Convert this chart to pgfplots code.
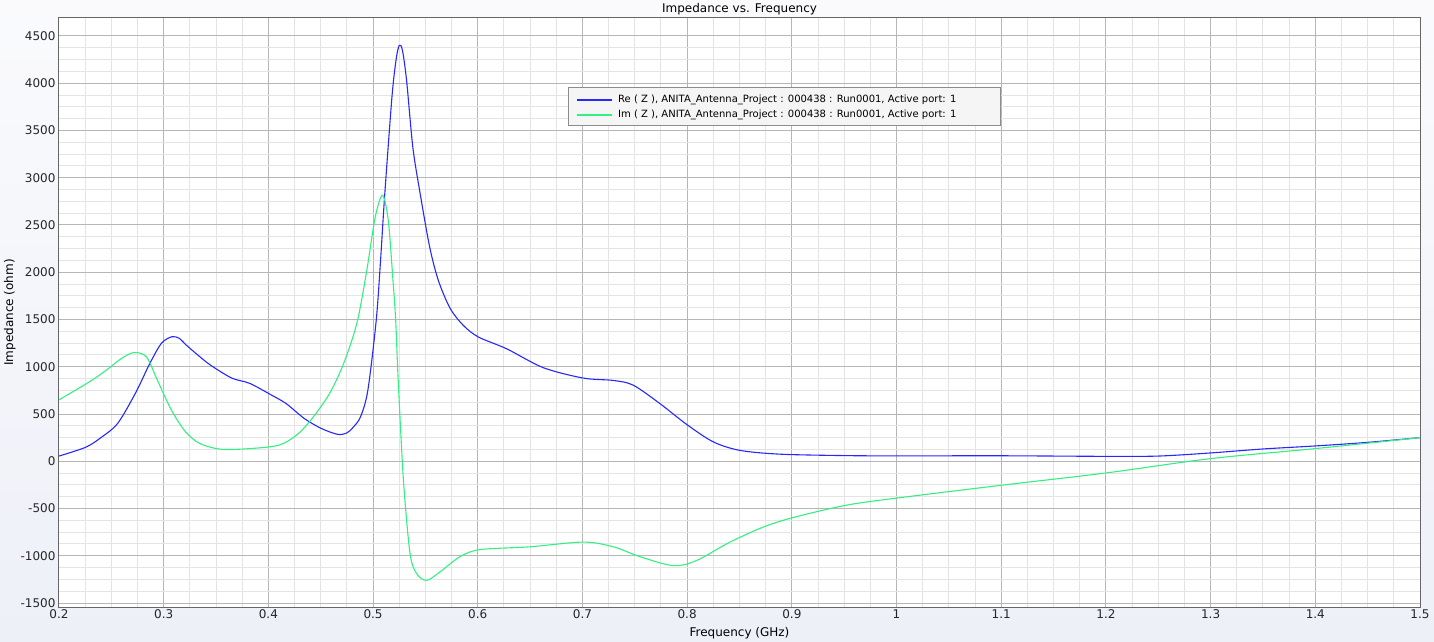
\documentclass[border=0pt]{standalone}
\usepackage{fontspec}
\setmainfont{DejaVu Sans}
\usepackage{pgfplots}
\pgfplotsset{compat=1.18}

\definecolor{bgc}{RGB}{238,240,248}
\definecolor{rez}{RGB}{40,40,250}
\definecolor{imz}{RGB}{50,240,130}
\definecolor{majgrid}{RGB}{182,182,182}
\definecolor{mingrid}{RGB}{228,228,228}
\definecolor{legbg}{RGB}{245,245,245}

\begin{document}
\begin{tikzpicture}
% page frame: axis box is 1361 x 589 with 59/14 left/right and 18/35 top/bottom margins
\useasboundingbox (-59pt,-35pt) rectangle (1375pt,607pt);
\shade[top color=white!70!bgc, bottom color=bgc] (-59pt,-35pt) rectangle (1375pt,607pt);
\begin{axis}[
    at={(0pt,0pt)}, anchor=south west,
    scale only axis,
    width=1361pt, height=589pt,
    xmin=0.2, xmax=1.5,
    ymin=-1542, ymax=4690,
    xtick={0.2,0.3,0.4,0.5,0.6,0.7,0.8,0.9,1.0,1.1,1.2,1.3,1.4,1.5},
    xticklabels={0.2,0.3,0.4,0.5,0.6,0.7,0.8,0.9,1,1.1,1.2,1.3,1.4,1.5},
    ytick={-1500,-1000,-500,0,500,1000,1500,2000,2500,3000,3500,4000,4500},
    yticklabels={-1500,-1000,-500,0,500,1000,1500,2000,2500,3000,3500,4000,4500},
    minor x tick num=3,
    minor y tick num=3,
    grid=both,
    major grid style={majgrid, line width=1pt},
    minor grid style={mingrid, line width=1pt},
    major tick length=0pt, minor tick length=0pt,
    axis line style={draw=black!60, line width=1pt},
    axis background/.style={fill=white},
    tick label style={font=\fontsize{12}{14}\selectfont, text=black!85},
    xticklabel style={yshift=1pt},
    title={Impedance vs. Frequency},
    title style={font=\fontsize{12}{14}\selectfont, at={(0.5,1)}, anchor=south, yshift=-7pt},
    xlabel={Frequency (GHz)},
    xlabel style={font=\fontsize{12}{14}\selectfont, yshift=-2pt},
    ylabel={Impedance (ohm)},
    ylabel style={font=\fontsize{12}{14}\selectfont, yshift=-2pt},
]
\addplot[color=rez, line width=1.1pt, smooth, tension=0.5] coordinates {
(0.200,55) (0.2255,148) (0.240,250) (0.256,400) (0.273,720) (0.287,1040)
(0.298,1250) (0.308,1318) (0.315,1300) (0.321,1235) (0.333,1120) (0.345,1015)
(0.365,880) (0.382,825) (0.403,700) (0.417,610) (0.434,455) (0.450,350)
(0.466,285) (0.475,300) (0.481,360) (0.488,470) (0.495,750) (0.503,1490)
(0.507,2100) (0.511,2800) (0.518,3850) (0.522,4250) (0.525,4400) (0.528,4350)
(0.532,4030) (0.538,3320) (0.545,2830) (0.554,2270) (0.5623,1915) (0.5735,1620)
(0.586,1440) (0.6005,1315) (0.6276,1190) (0.6626,990) (0.7008,880) (0.7295,855)
(0.7485,805) (0.774,610) (0.7995,390) (0.825,205) (0.8504,115) (0.8886,75)
(0.95,60) (1.0,57) (1.1,58) (1.2,52) (1.25,55) (1.3,88) (1.35,130) (1.4,162)
(1.45,200) (1.5,250)
};
\addplot[color=imz, line width=1.1pt, smooth, tension=0.5] coordinates {
(0.200,650) (0.229,840) (0.246,970) (0.2596,1087) (0.2716,1150) (0.2835,1105)
(0.294,857) (0.3074,540) (0.321,310) (0.3347,187) (0.355,127) (0.3824,134)
(0.41,170) (0.4267,275) (0.4404,434) (0.4575,700) (0.4712,1015) (0.4845,1460)
(0.494,2020) (0.502,2580) (0.509,2815) (0.5145,2550) (0.519,1915) (0.5216,1490)
(0.524,857) (0.529,-200) (0.5353,-975) (0.5417,-1190) (0.5512,-1260) (0.564,-1170)
(0.583,-1010) (0.602,-935) (0.65,-905) (0.7008,-855) (0.7295,-905) (0.755,-1010)
(0.787,-1105) (0.809,-1050) (0.841,-855) (0.873,-695) (0.9013,-595) (0.952,-465)
(1.0,-390) (1.1,-254) (1.2,-124) (1.3,28) (1.4,134) (1.5,250)
};
\end{axis}
% legend box, drawn over the axis
\draw[draw=black!45, fill=legbg, line width=1pt] (509pt,481pt) rectangle (941pt,519pt);
\draw[draw=rez, line width=1.3pt] (518pt,507pt) -- (553pt,507pt);
\draw[draw=imz, line width=1.3pt] (518pt,492pt) -- (553pt,492pt);
\node[anchor=west, inner sep=0pt, font=\fontsize{10}{12}\selectfont] at (559pt,507pt)
  {Re ( Z ), ANITA\_Antenna\_Project : 000438 : Run0001, Active port: 1};
\node[anchor=west, inner sep=0pt, font=\fontsize{10}{12}\selectfont] at (559pt,492pt)
  {Im ( Z ), ANITA\_Antenna\_Project : 000438 : Run0001, Active port: 1};
\end{tikzpicture}
\end{document}
